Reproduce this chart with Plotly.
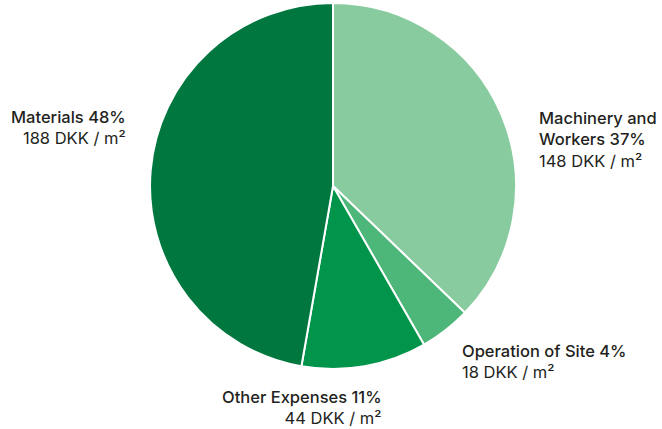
import plotly.graph_objects as go

categories = ["Machinery and Workers", "Operation of Site", "Other Expenses", "Materials"]
values = [148, 18, 44, 188]
percents = ["37%", "4%", "11%", "48%"]
colors = ["#88CB9E", "#4DB679", "#00954A", "#00773F"]

fig = go.Figure(go.Pie(
    labels=categories, values=values, sort=False, direction="clockwise", rotation=0,
    marker=dict(colors=colors, line=dict(color="white", width=2)),
    textinfo="none", hoverinfo="label+value", showlegend=False,
    domain=dict(x=[0.2266, 0.7795], y=[0.1399, 0.993]),
))

def lab(name, pct, val):
    return f"<span style='font-weight:500'>{name} {pct}</span><br>{val} DKK / m²"

ann = [
    dict(x=128, y=127, xanchor="right", align="right",
         text=lab("Materials", percents[3], values[3])),
    dict(x=537, y=139, xanchor="left", align="left",
         text=f"<span style='font-weight:500'>Machinery and<br>Workers {percents[0]}</span><br>{values[0]} DKK / m²"),
    dict(x=460, y=361, xanchor="left", align="left",
         text=lab("Operation of Site", percents[1], values[1])),
    dict(x=384, y=407, xanchor="right", align="right",
         text=lab("Other Expenses", percents[2], values[2])),
]
annotations = []
for a in ann:
    a.update(xref="paper", yref="paper", showarrow=False, yanchor="middle",
             font=dict(family="Inter", size=16.5, color="#231F20"))
    a["x"] = a["x"] / 662
    a["y"] = 1 - a["y"] / 429
    annotations.append(a)

fig.update_layout(
    width=662, height=429, margin=dict(l=0, r=0, t=0, b=0),
    paper_bgcolor="white", plot_bgcolor="white",
    annotations=annotations,
)
fig.write_html("out.html", config={"displayModeBar": False},
               post_script="document.body.style.margin='0';document.body.style.overflow='hidden';")
